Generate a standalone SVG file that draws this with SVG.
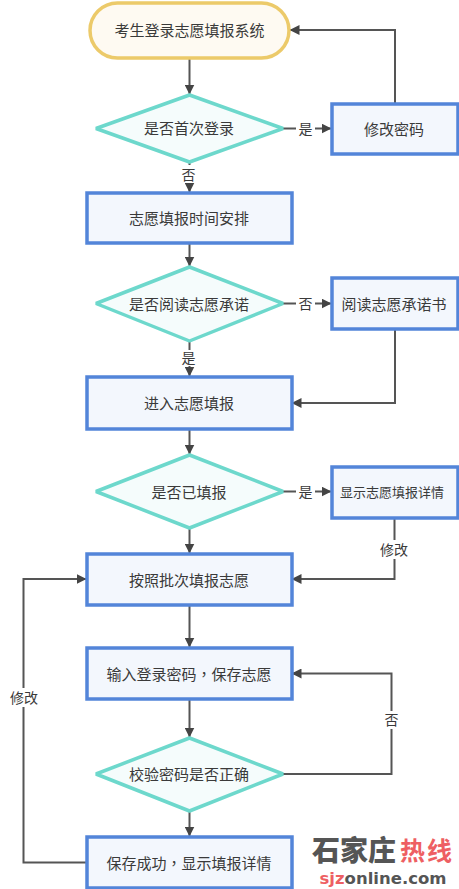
<svg xmlns="http://www.w3.org/2000/svg" width="459" height="889" viewBox="0 0 459 889">
<style>
text{font-family:"Noto Sans CJK SC","Liberation Sans",sans-serif;font-size:15px;fill:#3a3a3a;text-anchor:middle;font-weight:400}
.r{fill:#f3f7fd;stroke:#5385d9;stroke-width:3.5}
.d{fill:#f5fcfc;stroke:#6dd8cc;stroke-width:3.500;stroke-linejoin:bevel}
.t{fill:#fefaf2;stroke:#ecca6a;stroke-width:3.5}
.c{fill:none;stroke:#555;stroke-width:2}
.m{font-size:14px}
.lb{fill:#fff;stroke:none}
.p{font-family:"Noto Sans CJK TC",sans-serif}
</style>
<defs><marker id="a" viewBox="0 0 10 10" refX="9.5" refY="5" markerWidth="10" markerHeight="10" markerUnits="userSpaceOnUse" orient="auto"><path d="M0 0L10 5L0 10Z" fill="#444"/></marker></defs>
<g id="connectors">
<path class="c" marker-end="url(#a)" d="M189.500 58V94"/>
<path class="c" marker-end="url(#a)" d="M283 128.500H331"/>
<path class="c" marker-end="url(#a)" d="M395 104V30H290"/>
<path class="c" marker-end="url(#a)" d="M189.500 162V192"/>
<path class="c" marker-end="url(#a)" d="M189.500 243V266"/>
<path class="c" marker-end="url(#a)" d="M283 303.500H331"/>
<path class="c" marker-end="url(#a)" d="M189.500 341V376"/>
<path class="c" marker-end="url(#a)" d="M395 329V403H292"/>
<path class="c" marker-end="url(#a)" d="M189.500 429V454"/>
<path class="c" marker-end="url(#a)" d="M283 491.500H331"/>
<path class="c" marker-end="url(#a)" d="M189.500 528V553"/>
<path class="c" marker-end="url(#a)" d="M394.500 518V579H292"/>
<path class="c" marker-end="url(#a)" d="M189.500 605V647"/>
<path class="c" marker-end="url(#a)" d="M189.500 699V737"/>
<path class="c" marker-end="url(#a)" d="M283 774H391.500V673.500H292"/>
<path class="c" marker-end="url(#a)" d="M189.500 811V836"/>
<path class="c" marker-end="url(#a)" d="M87 862.500H23.500V579H86"/>
<rect class="lb" x="296" y="120" width="19" height="18"/><text x="305.500" y="133.500" class="m">是</text>
<rect class="lb" x="180" y="165" width="18" height="18"/><text x="188.500" y="180" class="m">否</text>
<rect class="lb" x="296" y="295" width="19" height="18"/><text x="305.500" y="309" class="m">否</text>
<rect class="lb" x="180" y="350" width="18" height="16"/><text x="188.500" y="363" class="m">是</text>
<rect class="lb" x="296" y="483" width="19" height="18"/><text x="305.500" y="497" class="m">是</text>
<rect class="lb" x="378" y="540" width="32" height="19"/><text x="394" y="555" class="m">修改</text>
<rect class="lb" x="382" y="711" width="18" height="18"/><text x="391.500" y="725" class="m">否</text>
<rect class="lb" x="8" y="688" width="32" height="19"/><text x="24" y="703" class="m">修改</text>
</g>
<g id="n1"><rect class="t" x="90" y="3" width="199" height="55" rx="27.500"/><text x="189.500" y="36">考生登录志愿填报系统</text></g>
<g id="n2"><path class="d" d="M189.500 95L283 128.500L189.500 162L96 128.500Z"/><text x="189" y="134">是否首次登录</text></g>
<g id="n3"><rect class="r" x="332" y="104" width="126" height="50"/><text x="394" y="135">修改密码</text></g>
<g id="n4"><rect class="r" x="87" y="193" width="205" height="50"/><text x="189" y="224">志愿填报时间安排</text></g>
<g id="n5"><path class="d" d="M189.500 267L283 303.500L189.500 341L96 303.500Z"/><text x="189" y="310">是否阅读志愿承诺</text></g>
<g id="n6"><rect class="r" x="332" y="278" width="126" height="51"/><text x="394" y="310">阅读志愿承诺书</text></g>
<g id="n7"><rect class="r" x="87" y="377" width="205" height="52"/><text x="189" y="409">进入志愿填报</text></g>
<g id="n8"><path class="d" d="M189.500 455L283 491.500L189.500 528L96 491.500Z"/><text x="189" y="498">是否已填报</text></g>
<g id="n9"><rect class="r" x="332" y="467" width="126" height="51"/><text x="392" y="497" style="font-size:13px">显示志愿填报详情</text></g>
<g id="n10"><rect class="r" x="87" y="554" width="205" height="51"/><text x="189" y="586">按照批次填报志愿</text></g>
<g id="n11"><rect class="r" x="87" y="648" width="205" height="51"/><text x="189" y="680">输入登录密码<tspan class="p">，</tspan>保存志愿</text></g>
<g id="n12"><path class="d" d="M189.500 738L283 774L189.500 811L96 774Z"/><text x="189" y="780">校验密码是否正确</text></g>
<g id="n13"><rect class="r" x="87" y="837" width="205" height="51"/><text x="189" y="869">保存成功<tspan class="p">，</tspan>显示填报详情</text></g>
<g id="watermark">
<text x="354" y="861" style="font-size:28px;font-weight:900;fill:#555">石家庄</text>
<text x="427" y="860" style="font-size:25px;font-weight:700;fill:#ee5f63;letter-spacing:2px">热线</text>
<text x="383" y="884" style="font-family:'DejaVu Sans',sans-serif;font-size:16.500px;font-weight:700;fill:#555"><tspan fill="#ee5f63">sjz</tspan>online.com</text>
</g>
</svg>
